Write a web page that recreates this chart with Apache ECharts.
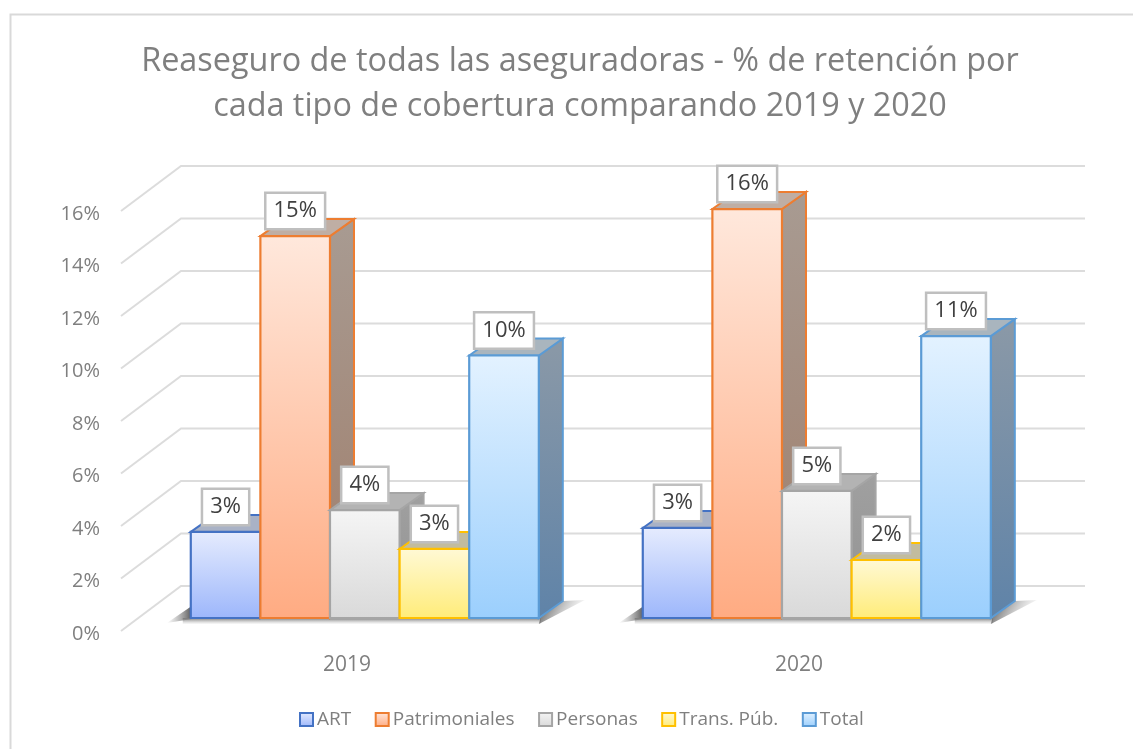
<!DOCTYPE html>
<html>
<head>
<meta charset="utf-8">
<style>html,body{margin:0;padding:0;background:#fff}#chart{width:1133px;height:749px}</style>
<script src="https://cdn.jsdelivr.net/npm/echarts@6/dist/echarts.min.js"></script>
</head>
<body>
<div id="chart"></div>
<script>
var categories = ['2019', '2020'];
var yTicks = [0, 2, 4, 6, 8, 10, 12, 14, 16];
var art = [3.28, 3.43];
var patrimoniales = [14.55, 15.58];
var personas = [4.11, 4.84];
var transPub = [2.63, 2.21];
var total = [10.0, 10.74];

var names = ['ART', 'Patrimoniales', 'Personas', 'Trans. Púb.', 'Total'];
var values = [art, patrimoniales, personas, transPub, total];

// face top, face bottom, border, top face, side top, side bottom
var colors = [
  ['#e6ecfe', '#9cb6fb', '#4472c4', '#a9b2c6', '#8f99b0', '#6f83ad'],
  ['#ffe8dc', '#ffab82', '#ed7d31', '#bfaea4', '#a89b92', '#a07e6b'],
  ['#f5f5f5', '#d9d9d9', '#a5a5a5', '#b3b3b3', '#a0a0a0', '#929292'],
  ['#fff9d6', '#ffec78', '#ffc000', '#c2bc9e', '#a8a27f', '#99925f'],
  ['#e3f2ff', '#9bcffd', '#5b9bd5', '#a9b5be', '#8b99a7', '#5f83a8']
];

// 3d look: the wall sits behind the front plane, bars stand part way in
var wallDepth = [60, -45];
var barInset = [17.8, -13];
var barDepth = [24, -17];
var groupShare = 0.77;

var dom = document.getElementById('chart');
var myChart = echarts.init(dom, null, { renderer: 'canvas' });

function grad(x2, y2, c1, c2) {
  return { type: 'linear', x: 0, y: 0, x2: x2, y2: y2, colorStops: [{ offset: 0, color: c1 }, { offset: 1, color: c2 }] };
}
function vGrad(c1, c2) {
  return grad(0, 1, c1, c2);
}

function barSlot(api, cat, idx) {
  var band = api.size([1, 0])[0];
  var w = band * groupShare / names.length;
  var c = api.coord([cat, 0]);
  return { w: w, left: c[0] + barInset[0] - w * names.length / 2 + idx * w, base: c[1] + barInset[1] };
}

function renderWall(params, api) {
  var v = api.value(0);
  var y = api.coord([0, v])[1];
  var cs = params.coordSys;
  return {
    type: 'polyline',
    shape: { points: [[cs.x, y], [cs.x + wallDepth[0], y + wallDepth[1]], [cs.x + cs.width + wallDepth[0], y + wallDepth[1]]] },
    style: { fill: null, stroke: '#dcdcdc', lineWidth: 2 }
  };
}

function renderShadow(params, api) {
  var cat = api.value(0);
  var a = barSlot(api, cat, 0);
  var b = barSlot(api, cat, names.length - 1);
  var l = a.left, r = b.left + b.w, y = a.base;
  var dx = barDepth[0], dy = barDepth[1];
  return {
    type: 'group',
    children: [
      {
        type: 'polygon',
        shape: { points: [[l + 1, y - 12], [l + 1, y + 1], [l - 24, y + 5]] },
        style: { fill: grad(1, 0, 'rgba(130,130,130,0)', 'rgba(70,70,70,0.9)') }
      },
      {
        type: 'rect',
        shape: { x: l - 8, y: y, width: r - l + 10, height: 6 },
        style: { fill: vGrad('rgba(120,120,120,1)', 'rgba(190,190,190,0.1)') }
      },
      {
        type: 'polygon',
        shape: { points: [[r, y + 6], [r + 2, y - 1], [r + dx, y + dy], [r + dx + 22, y + dy - 1]] },
        style: { fill: grad(0.8, 0.9, 'rgba(60,60,60,1)', 'rgba(190,190,190,0.1)') }
      }
    ]
  };
}

function renderBar(idx) {
  return function (params, api) {
    var cat = api.value(0);
    var s = barSlot(api, cat, idx);
    var topY = api.coord([cat, api.value(1)])[1] + barInset[1];
    var l = s.left, r = s.left + s.w, b = s.base;
    var dx = barDepth[0], dy = barDepth[1];
    var c = colors[idx];
    return {
      type: 'group',
      children: [
        {
          type: 'polygon',
          shape: { points: [[r, topY], [r + dx, topY + dy], [r + dx, b + dy], [r, b]] },
          style: { fill: vGrad(c[4], c[5]), stroke: c[2], lineWidth: 2 }
        },
        {
          type: 'polygon',
          shape: { points: [[l, topY], [l + dx, topY + dy], [r + dx, topY + dy], [r, topY]] },
          style: { fill: c[3], stroke: c[2], lineWidth: 2 }
        },
        {
          type: 'rect',
          shape: { x: l, y: topY, width: s.w, height: b - topY },
          style: { fill: vGrad(c[0], c[1]), stroke: c[2], lineWidth: 2.2 }
        }
      ]
    };
  };
}

function renderLabel(params, api) {
  var cat = api.value(0), idx = api.value(1), v = api.value(2);
  var s = barSlot(api, cat, idx);
  var topY = api.coord([cat, v])[1] + barInset[1];
  return {
    type: 'text',
    x: s.left + s.w / 2,
    y: topY - 25,
    style: {
      text: Math.round(v) + '%',
      align: 'center',
      verticalAlign: 'middle',
      fill: '#404040',
      font: '22px "Open Sans"',
      backgroundColor: '#fff',
      borderColor: '#bfbfbf',
      borderWidth: 2.5,
      padding: [6, 7, 6, 7]
    }
  };
}

var labelData = [];
categories.forEach(function (c, i) {
  values.forEach(function (arr, j) {
    labelData.push([i, j, arr[i]]);
  });
});

var series = [
  { type: 'custom', name: 'wall', silent: true, z: 1, renderItem: renderWall, data: yTicks.map(function (t) { return [t]; }), encode: { y: 0 } },
  { type: 'custom', name: 'shadow', silent: true, z: 2, renderItem: renderShadow, data: categories.map(function (c, i) { return [i]; }), encode: { x: 0 } }
];
names.forEach(function (name, idx) {
  series.push({
    type: 'custom',
    name: name,
    z: 3 + idx,
    renderItem: renderBar(idx),
    itemStyle: { color: vGrad(colors[idx][0], colors[idx][1]), borderColor: colors[idx][2], borderWidth: 2 },
    data: values[idx].map(function (v, i) { return [i, v]; }),
    encode: { x: 0, y: 1 }
  });
});
series.push({ type: 'custom', name: 'labels', silent: true, z: 20, renderItem: renderLabel, data: labelData, encode: { x: 0, y: 2 } });

var option = {
  animation: false,
  backgroundColor: '#fff',
  textStyle: { fontFamily: '"Open Sans"' },
  title: {
    text: 'Reaseguro de todas las aseguradoras - % de retención por\ncada tipo de cobertura comparando 2019 y 2020',
    left: 575,
    top: 34,
    textAlign: 'center',
    textStyle: { fontFamily: '"Open Sans"', fontSize: 32.4, fontWeight: 'normal', color: '#7f7f7f', lineHeight: 45 }
  },
  legend: {
    data: names,
    left: 294,
    top: 705,
    itemWidth: 13,
    itemHeight: 13,
    itemGap: 23.5,
    icon: 'rect',
    textStyle: { fontFamily: '"Open Sans"', fontSize: 19, color: '#7f7f7f', padding: [0, 0, 0, -1] }
  },
  grid: { left: 121, top: 211, width: 904, height: 420, containLabel: false },
  xAxis: {
    type: 'category',
    data: categories,
    axisLine: { show: false },
    axisTick: { show: false },
    axisLabel: { fontSize: 21, color: '#7f7f7f', margin: 24, fontFamily: '"Open Sans"' },
    splitLine: { show: false }
  },
  yAxis: {
    type: 'value',
    min: 0,
    max: 16,
    interval: 2,
    axisLine: { show: false },
    axisTick: { show: false },
    splitLine: { show: false },
    axisLabel: { fontSize: 20, color: '#7f7f7f', margin: 21, formatter: '{value}%', fontFamily: '"Open Sans"', verticalAlign: 'top', lineHeight: 6 }
  },
  graphic: [
    { type: 'polyline', silent: true, shape: { points: [[10.5, 749], [10.5, 14.5], [1133, 14.5]] }, style: { fill: null, stroke: '#d9d9d9', lineWidth: 2 } }
  ],
  series: series
};

myChart.setOption(option);
window.addEventListener('resize', myChart.resize);
</script>
</body>
</html>
